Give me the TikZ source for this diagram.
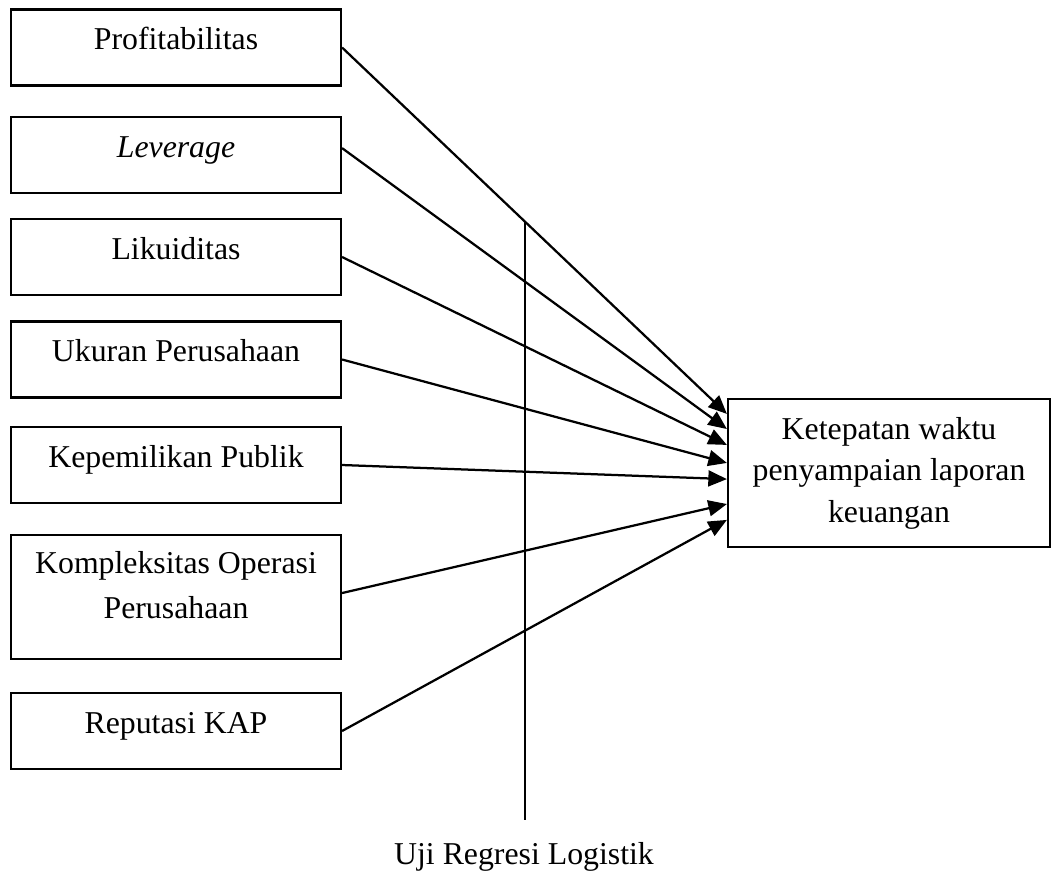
\documentclass[tikz,border=0pt]{standalone}
\usepackage{fontspec}
\setmainfont{Liberation Serif}
\usepackage{tikz}
\usetikzlibrary{positioning, arrows.meta, calc}

\begin{document}
\begin{tikzpicture}[
  x=0.3774pt, y=-0.3774pt,
  varbox/.style={draw, line width=0.85pt, minimum width=124.5pt, minimum height=#1,
    inner sep=0pt, align=center, font=\fontsize{12}{17}\selectfont},
  onebox/.style={varbox=28.7pt, text height=8.5pt, text depth=6.8pt},
  arr/.style={line width=0.85pt, -{Triangle[length=7pt, width=6pt]}},
]
\useasboundingbox (0,0) rectangle (1054,875);

% Variabel independen
\node[onebox] (prof) at (176, 47.5) {Profitabilitas};
\node[onebox] (lev)  at (176, 155)  {\textit{Leverage}};
\node[onebox] (likd) at (176, 257)  {Likuiditas};
\node[onebox] (ukr)  at (176, 359.5) {Ukuran Perusahaan};
\node[onebox] (kpub) at (176, 465)  {Kepemilikan Publik};
\node[varbox=46.8pt, text depth=9.3pt] (komp) at (176, 597) {Kompleksitas Operasi\\Perusahaan};
\node[onebox] (kap)  at (176, 731)  {Reputasi KAP};

% Variabel dependen
\node[varbox=55.9pt, minimum width=121.5pt, font=\fontsize{12}{15.7}\selectfont] (tepat) at (889, 473)
  {Ketepatan waktu\\penyampaian laporan\\keuangan};

% Panah
\draw[arr] (prof.east) -- ([yshift=22.3pt]tepat.west);
\draw[arr] ([yshift=2.6pt]lev.east) -- ([yshift=16.6pt]tepat.west);
\draw[arr] (likd.east) -- ([yshift=10.6pt]tepat.west);
\draw[arr] (ukr.east)  -- ([yshift=3.8pt]tepat.west);
\draw[arr] (kpub.east) -- ([yshift=-2.3pt]tepat.west);
\draw[arr] ([yshift=1.5pt]komp.east) -- ([yshift=-11.7pt]tepat.west);
\draw[arr] (kap.east)  -- ([yshift=-17.7pt]tepat.west);

% Garis uji
\coordinate (ujitop) at (525, 222);
\coordinate (ujibot) at (525, 820);
\draw[line width=0.85pt] (ujitop) -- (ujibot);
\node[anchor=base, font=\fontsize{12}{14}\selectfont, inner sep=0pt] (uji) at (524, 864) {Uji Regresi Logistik};

\end{tikzpicture}
\end{document}
